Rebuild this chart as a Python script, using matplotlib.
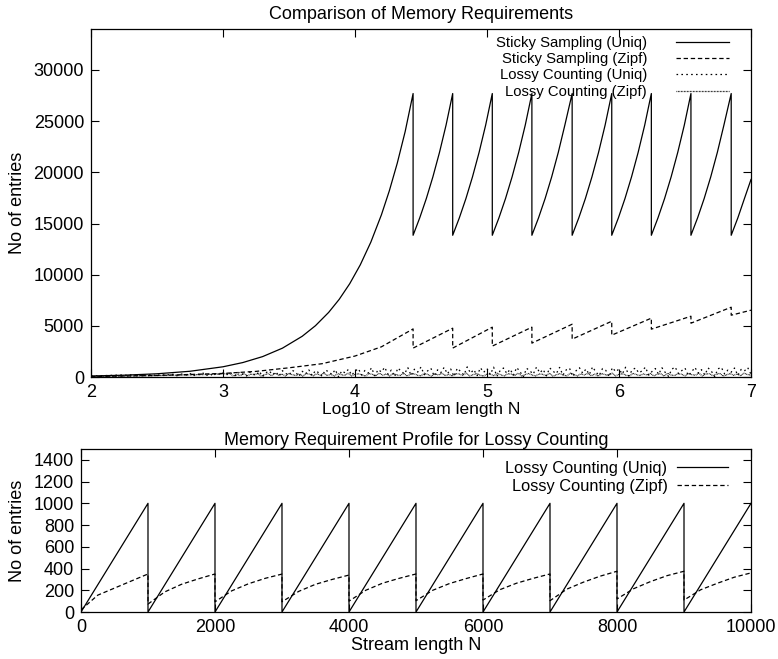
import numpy as np
import matplotlib
matplotlib.use("Agg")
import matplotlib.pyplot as plt

plt.rcParams['font.family'] = ['Liberation Sans', 'DejaVu Sans']
plt.rcParams['font.size'] = 13

# ---------------- data: top panel (x = log10 N) ----------------
ss_uniq_pre_x = [2.0, 2.25, 2.5, 2.75, 3.0, 3.15, 3.3, 3.45, 3.6, 3.7, 3.8, 3.88,
                 3.96, 4.04, 4.12, 4.2, 4.26, 4.32, 4.38, 4.44]
ss_uniq_pre_y = [100, 178, 316, 562, 1000, 1413, 1995, 2818, 3981, 5012, 6310, 7586,
                 9120, 10965, 13183, 15849, 18197, 20893, 23988, 27700]
ss_drop_x = [4.44, 4.74, 5.04, 5.34, 5.645, 5.945, 6.245, 6.545, 6.85]
ss_uniq_peak = [27700, 27700, 27700, 27700, 27700, 27700, 27700, 27700, 27700]
ss_uniq_floor = [13850, 13850, 13850, 13850, 13850, 13850, 13850, 13850, 13850]
ss_uniq_seg_dx = [0.05, 0.1, 0.15, 0.2, 0.25]
ss_uniq_seg_y = [15540, 17430, 19560, 21950, 24630]
ss_uniq_end = 19300

ss_zipf_pre_x = [2.0, 2.5, 3.0, 3.25, 3.5, 3.75, 4.0, 4.2, 4.44]
ss_zipf_pre_y = [50, 150, 350, 550, 900, 1300, 2050, 2950, 4700]
ss_zipf_peak = [4700, 4770, 4870, 4870, 5160, 5450, 5750, 5940, 6820]
ss_zipf_floor = [2825, 2825, 3020, 3310, 3700, 4090, 4675, 5260, 6040]
ss_zipf_end = 6530

lc_uniq_top = [100, 110, 120, 130, 140, 150, 160, 170, 180, 190, 200, 150, 210, 160, 220,
               170, 230, 120, 240, 150, 260, 130, 200, 280, 150, 300, 120, 260, 320, 180,
               350, 100, 300, 200, 380, 150, 330, 90, 400, 250, 420,
               180, 450, 300, 120, 500, 260, 80, 480, 350, 150, 550, 40, 420, 600, 220,
               500, 90, 620, 350, 180, 650, 480, 60, 560, 300, 700, 150, 620, 420, 80,
               680, 520, 250, 720, 30, 600, 400, 750, 180, 560,
               820, 200, 640, 380, 900, 120, 720, 500, 950, 260, 680, 40, 880, 560, 300,
               920, 150, 760, 480, 980, 220, 600, 850, 90, 700, 420, 940, 310, 780, 60,
               860, 540, 200, 990, 380, 720, 130, 900, 460, 820, 250, 960, 70, 640, 880,
               340, 760, 180, 930, 520, 20, 850, 600, 280, 970, 410, 740, 110, 890, 560,
               330, 940, 190, 700, 860, 50, 620, 910, 370, 780, 240, 990, 480, 150, 830,
               650, 30, 920, 520, 780, 290, 960, 100, 700, 880, 400, 600, 960, 180, 540,
               830, 260, 910, 450, 60, 760, 980, 340, 620, 870, 140, 500, 940, 380, 720,
               210, 890, 560, 40, 800, 950, 300, 680, 470, 880, 160, 740, 590, 920, 260]
lc_zipf_top = [30, 35, 40, 45, 50, 60, 55, 65, 70, 75, 80, 90, 85, 100, 95, 110, 120, 115,
               130, 140, 150, 145, 160, 170, 180, 175, 190, 200, 210, 205, 220, 240, 230,
               250, 260, 270, 280, 290, 300, 320, 340,
               90, 260, 150, 330, 110, 290, 200, 360, 95, 240, 310, 130, 370, 180, 280,
               100, 340, 220, 150, 300, 85, 350, 260, 120, 320, 190, 370, 140, 280, 90,
               330, 230, 160, 360, 110, 270, 310, 200, 90, 350, 250, 130, 370, 180, 300,
               100, 340, 210, 150, 360, 95, 280, 320, 170, 120, 370, 240, 90, 310, 200,
               350, 140, 260, 100, 330, 290, 160, 370, 110, 230, 340, 180, 90, 300, 260,
               130, 360, 200, 120, 320, 280, 150, 370, 100, 240, 340, 190, 110, 300, 260,
               140, 360, 90, 220, 330, 170, 120, 370, 250, 100, 310, 200, 350, 130, 280,
               90, 340, 230, 160, 370, 110, 270, 320, 180, 100, 360, 240, 140, 300, 200,
               350, 120, 260, 330, 90, 370, 190, 150, 310, 280, 110, 350, 230, 170, 370,
               100, 290, 320, 140, 250, 360, 90, 210, 340, 160, 300, 120, 370, 240, 190]

# ---------------- data: bottom panel ----------------
window_start = [0, 1000, 2000, 3000, 4000, 5000, 6000, 7000, 8000, 9000]
window_len = 1000
lc_uniq_start = [0, 0, 0, 0, 0, 0, 0, 0, 0, 0]
lc_uniq_end = [1000, 1000, 1000, 1000, 1000, 1000, 1000, 1000, 1000, 1000]
zipf_offsets = [0, 250, 500, 750, 1000]
lc_zipf_win = [
    [20, 155, 220, 285, 350],
    [73, 185, 255, 305, 350],
    [94, 195, 260, 310, 349],
    [94, 190, 255, 300, 340],
    [100, 200, 265, 310, 350],
    [104, 200, 262, 308, 350],
    [110, 205, 265, 310, 350],
    [104, 210, 275, 330, 375],
    [120, 215, 280, 335, 375],
    [110, 205, 265, 320, 360],
]

# ---------------- build series ----------------
su_x = list(ss_uniq_pre_x)
su_y = list(ss_uniq_pre_y)
sz_x = list(ss_zipf_pre_x)
sz_y = list(ss_zipf_pre_y)
for k, xd in enumerate(ss_drop_x):
    su_x += [xd]
    su_y += [ss_uniq_floor[k]]
    sz_x += [xd]
    sz_y += [ss_zipf_floor[k]]
    if k + 1 < len(ss_drop_x):
        for dx, yv in zip(ss_uniq_seg_dx, ss_uniq_seg_y):
            su_x.append(xd + dx)
            su_y.append(yv)
        su_x.append(ss_drop_x[k + 1])
        su_y.append(ss_uniq_peak[k + 1])
        sz_x.append(ss_drop_x[k + 1])
        sz_y.append(ss_zipf_peak[k + 1])
    else:
        su_x += [xd + ss_uniq_seg_dx[0], xd + ss_uniq_seg_dx[1], 7.0]
        su_y += [ss_uniq_seg_y[0], ss_uniq_seg_y[1], ss_uniq_end]
        sz_x += [7.0]
        sz_y += [ss_zipf_end]

lcu_x = np.linspace(2, 7, len(lc_uniq_top))
lcz_x = np.linspace(2, 7, len(lc_zipf_top))

bu_x, bu_y, bz_x, bz_y = [], [], [], []
for i, ws in enumerate(window_start):
    bu_x += [ws, ws + window_len]
    bu_y += [lc_uniq_start[i], lc_uniq_end[i]]
    for off, v in zip(zipf_offsets, lc_zipf_win[i]):
        bz_x.append(ws + off)
        bz_y.append(v)

# ---------------- figure ----------------
fig = plt.figure(figsize=(7.78, 6.59), dpi=100)
ax1 = fig.add_axes([0.117, 0.4279, 0.8483, 0.528])
ax2 = fig.add_axes([0.1041, 0.0713, 0.8612, 0.2474])

lw = 0.9
dash_ss = (0, (3.5, 2.2))
dash_lu = (0, (1.3, 2.6))
dash_lz = (0, (0.6, 0.6))

ax1.plot(su_x, su_y, color='black', lw=lw, ls='-', label='Sticky Sampling (Uniq)')
ax1.plot(sz_x, sz_y, color='black', lw=lw, ls=dash_ss, label='Sticky Sampling (Zipf)')
ax1.plot(lcu_x, lc_uniq_top, color='black', lw=lw, ls=dash_lu, label='Lossy Counting (Uniq)')
ax1.plot(lcz_x, lc_zipf_top, color='black', lw=lw, ls=dash_lz, label='Lossy Counting (Zipf)')

ax1.set_xlim(2, 7)
ax1.set_ylim(0, 34000)
ax1.set_xticks([2, 3, 4, 5, 6, 7])
ax1.set_yticks(np.arange(0, 30001, 5000))
ax1.set_title('Comparison of Memory Requirements', fontsize=13, pad=7)
ax1.set_xlabel('Log10 of Stream length N', labelpad=1, fontsize=12.5)
ax1.set_ylabel('No of entries')
ax1.yaxis.set_label_coords(-0.098, 0.5)

ax2.plot(bu_x, bu_y, color='black', lw=lw, ls='-', label='Lossy Counting (Uniq)')
ax2.plot(bz_x, bz_y, color='black', lw=lw, ls=dash_ss, label='Lossy Counting (Zipf)')
ax2.set_xlim(0, 10000)
ax2.set_ylim(0, 1500)
ax2.set_xticks(np.arange(0, 10001, 2000))
ax2.set_yticks(np.arange(0, 1401, 200))
ax2.set_title('Memory Requirement Profile for Lossy Counting', fontsize=13, pad=3)
ax2.set_xlabel('Stream length N', labelpad=1)
ax2.set_ylabel('No of entries')
ax2.yaxis.set_label_coords(-0.082, 0.5)

for ax in (ax1, ax2):
    ax.tick_params(direction='in', top=True, right=True, length=6, width=0.8,
                   pad=5, labelsize=13)
    for s in ax.spines.values():
        s.set_linewidth(0.9)

ax1.legend(loc='upper right', bbox_to_anchor=(0.9667, 0.980), markerfirst=False,
           frameon=False, borderaxespad=0, borderpad=0, handlelength=3.57,
           handletextpad=1.95, labelspacing=0.15, fontsize=10.7)
ax2.legend(loc='upper right', bbox_to_anchor=(0.9657, 0.927), markerfirst=False,
           frameon=False, borderaxespad=0, borderpad=0, handlelength=3.1,
           handletextpad=0.6, labelspacing=0.2, fontsize=11.8)

fig.savefig('out.png', dpi=100)
